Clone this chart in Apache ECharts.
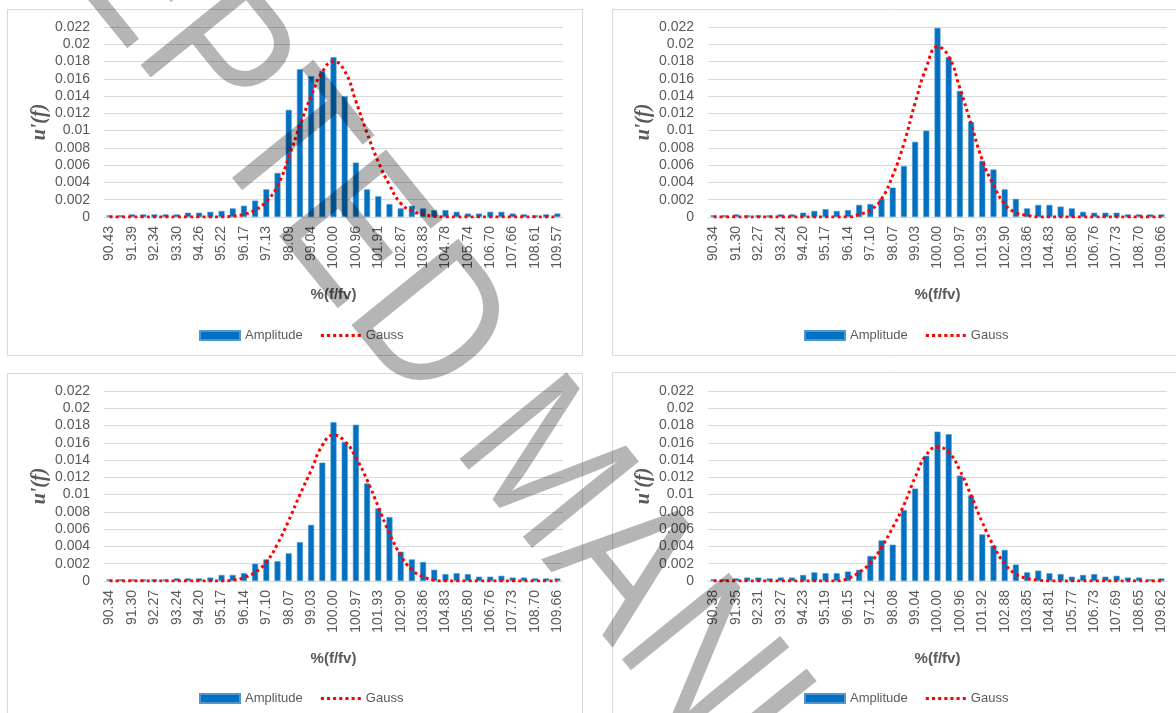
<!DOCTYPE html>
<html>
<head>
<meta charset="utf-8">
<script src="https://cdn.jsdelivr.net/npm/echarts@6/dist/echarts.min.js"></script>
<style>
  html, body { margin: 0; padding: 0; background: #ffffff; }
  #chart { width: 1176px; height: 713px; }
</style>
</head>
<body>
<div id="chart"></div>
<script>
// Frequency ratio categories (% of f/fv) for each measurement set
const catsA = ['90.43','90.91','91.39','91.87','92.34','92.82','93.30','93.78','94.26','94.74','95.22','95.70','96.17','96.65','97.13','97.61','98.09','98.57','99.04','99.52','100.00','100.48','100.96','101.43','101.91','102.39','102.87','103.35','103.83','104.30','104.78','105.26','105.74','106.22','106.70','107.18','107.66','108.13','108.61','109.09','109.57'];
const catsB = ['90.34','90.82','91.30','91.79','92.27','92.75','93.24','93.72','94.20','94.69','95.17','95.65','96.14','96.62','97.10','97.59','98.07','98.55','99.03','99.52','100.00','100.48','100.97','101.45','101.93','102.41','102.90','103.38','103.86','104.35','104.83','105.31','105.80','106.28','106.76','107.25','107.73','108.21','108.70','109.18','109.66'];
const catsC = catsB;
const catsD = ['90.38','90.86','91.35','91.83','92.31','92.79','93.27','93.75','94.23','94.71','95.19','95.67','96.15','96.63','97.12','97.60','98.08','98.56','99.04','99.52','100.00','100.48','100.96','101.44','101.92','102.40','102.88','103.36','103.85','104.33','104.81','105.29','105.77','106.25','106.73','107.21','107.69','108.17','108.65','109.13','109.62'];

// Amplitude histograms
const ampA = [0.0002,0.0002,0.0003,0.0003,0.0003,0.0003,0.0003,0.0005,0.0005,0.0006,
              0.0007,0.0010,0.0013,0.0019,0.0032,0.0051,0.0124,0.0171,0.0163,0.0169,
              0.0185,0.0140,0.0063,0.0032,0.0024,0.0015,0.0010,0.0013,0.0010,0.0008,
              0.0008,0.0006,0.0004,0.0004,0.0006,0.0006,0.0004,0.0003,0.0002,0.0003,0.0004];
const ampB = [0.0002,0.0002,0.0003,0.0002,0.0002,0.0002,0.0003,0.0003,0.0005,0.0007,
              0.0009,0.0007,0.0008,0.0014,0.0015,0.0021,0.0034,0.0059,0.0087,0.0100,
              0.0219,0.0185,0.0146,0.0110,0.0065,0.0055,0.0032,0.0021,0.0010,0.0014,
              0.0014,0.0012,0.0010,0.0006,0.0005,0.0005,0.0005,0.0003,0.0003,0.0003,0.0003];
const ampC = [0.0002,0.0002,0.0002,0.0002,0.0002,0.0002,0.0003,0.0003,0.0003,0.0004,
              0.0007,0.0007,0.0009,0.0020,0.0025,0.0023,0.0032,0.0045,0.0065,0.0137,
              0.0184,0.0161,0.0181,0.0113,0.0084,0.0074,0.0034,0.0025,0.0022,0.0013,
              0.0008,0.0009,0.0008,0.0005,0.0005,0.0006,0.0004,0.0004,0.0003,0.0003,0.0003];
const ampD = [0.0002,0.0002,0.0003,0.0004,0.0004,0.0003,0.0004,0.0004,0.0007,0.0010,
              0.0009,0.0009,0.0011,0.0013,0.0029,0.0047,0.0042,0.0082,0.0107,0.0145,
              0.0173,0.0170,0.0122,0.0099,0.0054,0.0041,0.0036,0.0019,0.0010,0.0012,
              0.0009,0.0008,0.0005,0.0007,0.0008,0.0005,0.0006,0.0004,0.0004,0.0002,0.0003];

// Fitted Gauss curves
const gaussA = [0,0,0,0,0,0,0,0,0,0,
                0,0.0001,0.0003,0.0008,0.0018,0.0036,0.0069,0.0106,0.0140,0.0168,
                0.0180,0.0169,0.0134,0.0097,0.0064,0.0037,0.0016,0.0007,0.0003,0.0001,
                0,0,0,0,0,0,0,0,0,0,0];
const gaussB = [0,0,0,0,0,0,0,0,0,0,
                0,0,0,0.0003,0.0008,0.0021,0.0048,0.0085,0.0132,0.0173,
                0.0197,0.0186,0.0149,0.0108,0.0066,0.0037,0.0015,0.0005,0.0002,0,
                0,0,0,0,0,0,0,0,0,0,0];
const gaussC = [0,0,0,0,0,0,0,0,0,0,
                0,0.0001,0.0004,0.0010,0.0022,0.0043,0.0070,0.0100,0.0128,0.0157,
                0.0169,0.0162,0.0143,0.0117,0.0086,0.0055,0.0030,0.0013,0.0005,0.0001,
                0,0,0,0,0,0,0,0,0,0,0];
const gaussD = [0,0,0,0,0,0,0,0,0,0,
                0,0,0.0003,0.0010,0.0021,0.0039,0.0062,0.0088,0.0120,0.0146,
                0.0155,0.0149,0.0128,0.0099,0.0068,0.0041,0.0020,0.0008,0.0003,0.0001,
                0,0,0,0,0,0,0,0,0,0,0];

const yTickMax = 0.022;
const yTickStep = 0.002;

const panels = [
  { cats: catsA, amp: ampA, gauss: gaussA, box: [7.5, 9.5, 575, 346],  grid: [104, 27],  legend: [194, 324] },
  { cats: catsB, amp: ampB, gauss: gaussB, box: [612.5, 9.5, 580, 346], grid: [708, 27],  legend: [799, 324] },
  { cats: catsC, amp: ampC, gauss: gaussC, box: [7.5, 373.5, 575, 346], grid: [104, 391], legend: [194, 687] },
  { cats: catsD, amp: ampD, gauss: gaussD, box: [612.5, 372.5, 580, 346], grid: [708, 391], legend: [799, 687] }
];

const textColor = '#595959';
const gridColor = '#d9d9d9';
const fontFamily = 'Liberation Sans, Arial, sans-serif';
// Round-dot legend marker for the Gauss series
const dotIcon = 'path://M0,0h3v3h-3z M6,0h3v3h-3z M12,0h3v3h-3z M18,0h3v3h-3z M24,0h3v3h-3z M30,0h3v3h-3z M36,0h3v3h-3z';

const option = {
  animation: false,
  backgroundColor: '#ffffff',
  textStyle: { fontFamily: fontFamily },
  grid: [], xAxis: [], yAxis: [], series: [], legend: [],
  graphic: []
};

panels.forEach((p, i) => {
  option.graphic.push({
    type: 'rect', z: -10, silent: true,
    shape: { x: p.box[0], y: p.box[1], width: p.box[2], height: p.box[3] },
    style: { fill: '#ffffff', stroke: gridColor, lineWidth: 1 }
  });
  option.grid.push({ left: p.grid[0], top: p.grid[1], width: 459, height: 190, containLabel: false });
  option.xAxis.push({
    type: 'category', gridIndex: i, data: p.cats, boundaryGap: true,
    axisLine: { show: true, lineStyle: { color: gridColor, width: 1 } },
    axisTick: { show: false },
    axisLabel: { interval: 1, rotate: 90, margin: 9, fontSize: 14, color: textColor, fontFamily: fontFamily },
    name: '%(f/fv)', nameLocation: 'middle', nameGap: 70,
    nameTextStyle: { fontWeight: 'bold', fontSize: 15, color: textColor, fontFamily: fontFamily }
  });
  option.yAxis.push({
    type: 'value', gridIndex: i, min: 0, max: yTickMax, interval: yTickStep,
    axisLine: { show: false }, axisTick: { show: false },
    splitLine: { show: true, lineStyle: { color: gridColor, width: 1 } },
    axisLabel: { fontSize: 14, color: textColor, margin: 14, fontFamily: fontFamily },
    name: "u'(f)", nameLocation: 'middle', nameGap: 54, nameRotate: 90,
    nameTextStyle: { fontWeight: 'bold', fontStyle: 'italic', fontSize: 20, color: textColor,
                     fontFamily: 'Liberation Serif, DejaVu Serif, serif' }
  });
  option.series.push({
    name: 'Amplitude', type: 'bar', xAxisIndex: i, yAxisIndex: i,
    data: p.amp, barWidth: 6,
    itemStyle: { color: '#0070c0', borderColor: '#4f97d0', borderWidth: 0.6 }
  });
  option.series.push({
    name: 'Gauss', type: 'line', xAxisIndex: i, yAxisIndex: i,
    data: p.gauss, smooth: true, symbol: 'none', z: 5,
    lineStyle: { color: '#ff0000', width: 3, type: [3, 3.2], cap: 'butt' },
    itemStyle: { color: '#ff0000' }
  });
  option.legend.push({
    left: p.legend[0], top: p.legend[1], orient: 'horizontal',
    itemWidth: 40, itemHeight: 9, itemGap: 18, symbolKeepAspect: true,
    textStyle: { fontSize: 13, color: textColor, fontFamily: fontFamily },
    data: [{ name: 'Amplitude', icon: 'rect' }, { name: 'Gauss', icon: dotIcon }],
    selectedMode: false
  });
});

// Diagonal watermark across the sheet
option.graphic.push({
  type: 'text', z: 100, silent: true,
  x: -126, y: -352, rotation: -51 * Math.PI / 180, scaleX: 0.86, scaleY: 1,
  style: {
    text: 'ACCEPTED MANUSCRIPT',
    font: 'normal 200px "Liberation Sans", Arial, sans-serif',
    fill: 'rgba(0,0,0,0.29)',
    textAlign: 'left', textVerticalAlign: 'middle'
  }
});

const chart = echarts.init(document.getElementById('chart'), null, { renderer: 'canvas' });
chart.setOption(option);
</script>
</body>
</html>
